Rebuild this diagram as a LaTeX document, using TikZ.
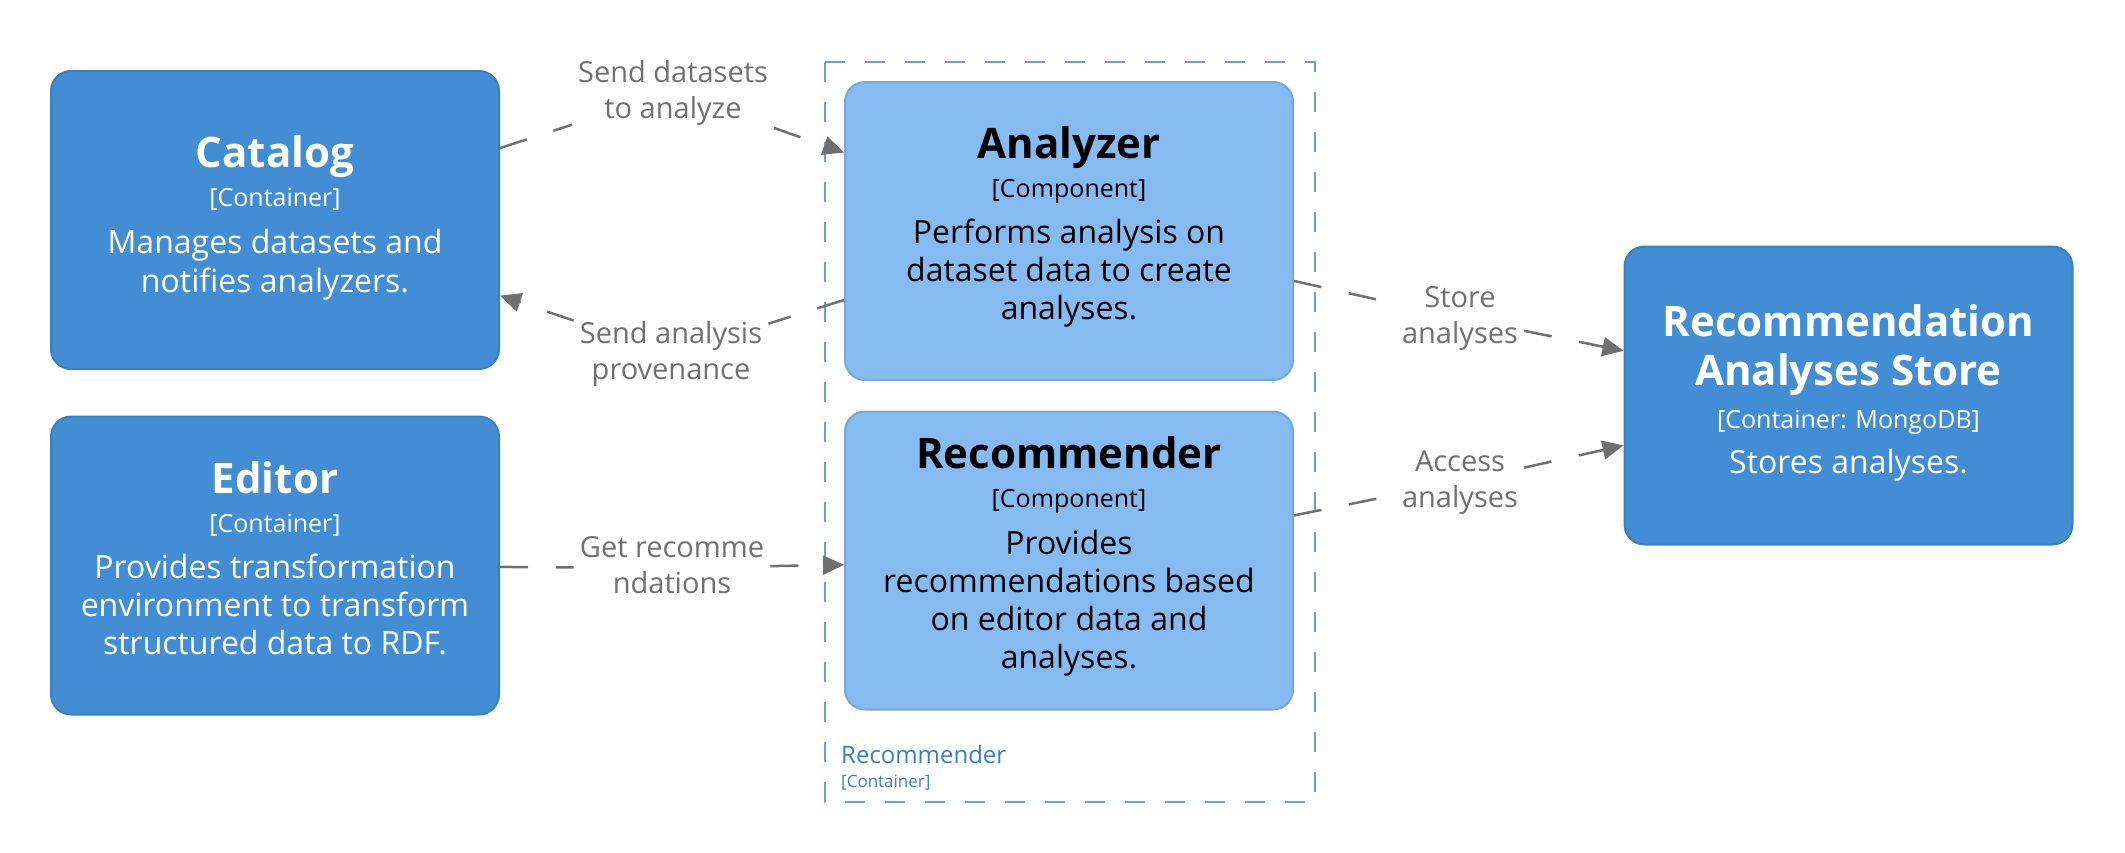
\documentclass[tikz,border=0pt]{standalone}
\usepackage{fontspec}
\setmainfont{Open Sans}
\usetikzlibrary{arrows.meta}
\definecolor{contfill}{HTML}{438DD5}
\definecolor{contline}{HTML}{3C7FC0}
\definecolor{compfill}{HTML}{85BBF0}
\definecolor{compline}{HTML}{78A8D8}
\definecolor{edgegray}{HTML}{707070}
\definecolor{bndcol}{HTML}{6A9FDB}
\definecolor{bndtext}{HTML}{3C7FC0}
\newcommand\twoline[2]{\rule{0pt}{21pt}#1\\#2\rule[-7pt]{0pt}{7pt}}
\tikzset{
  container/.style={draw=contline, fill=contfill, line width=2pt, rounded corners=20pt,
    minimum width=448pt, minimum height=298pt, inner sep=0pt},
  component/.style={container, draw=compline, fill=compfill},
  ttl/.style={anchor=base, inner sep=0pt, font=\fontsize{42}{49}\selectfont\bfseries},
  tech/.style={anchor=base, inner sep=0pt, font=\fontsize{25}{30}\selectfont},
  desc/.style={anchor=base, inner sep=0pt, font=\fontsize{32}{38}\selectfont},
  lbl/.style={align=center, inner sep=6pt, text=edgegray, font=\fontsize{29}{36}\selectfont},
  rel/.style={draw=edgegray, line width=2.5pt, dash pattern=on 28pt off 28pt,
    -{Triangle[length=21pt,width=19pt]}},
  bnd/.style={draw=bndcol, line width=2pt, dash pattern=on 20pt off 20pt},
}
\begin{document}
\begin{tikzpicture}[x=1pt,y=-1pt]
\useasboundingbox (0,0) rectangle (2125,852);
% boundary
\draw[bnd] (825,62) rectangle (1315,802);
\node[anchor=base west, inner sep=0pt, text=bndtext, font=\fontsize{24}{28}\selectfont] (bndname) at (841,763) {Recommender};
\node[anchor=base west, inner sep=0pt, text=bndtext, font=\fontsize{17}{20}\selectfont] (bndtech) at (841,787) {[Container]};
% boxes
\node[container] (cat) at (275,220) {};
\node[container] (ed) at (275,565.5) {};
\node[component] (ana) at (1069,231) {};
\node[component] (rec) at (1069,560.5) {};
\node[container] (store) at (1848.5,395.5) {};
% Catalog text
\node[ttl, text=white] (cat1) at (275,167) {Catalog};
\node[tech, text=white] (cat2) at (275,206) {[Container]};
\node[desc, text=white] (cat3) at (275,253) {Manages datasets and};
\node[desc, text=white] (cat4) at (275,292) {notifies analyzers.};
% Editor text
\node[ttl, text=white] (ed1) at (275,493) {Editor};
\node[tech, text=white] (ed2) at (275,532) {[Container]};
\node[desc, text=white] (ed3) at (275,578) {Provides transformation};
\node[desc, text=white] (ed4) at (275,616) {environment to transform};
\node[desc, text=white] (ed5) at (275,654) {structured data to RDF.};
% Analyzer text
\node[ttl] (ana1) at (1069,158) {Analyzer};
\node[tech] (ana2) at (1069,197) {[Component]};
\node[desc] (ana3) at (1069,243) {Performs analysis on};
\node[desc] (ana4) at (1069,281) {dataset data to create};
\node[desc] (ana5) at (1069,319) {analyses.};
% Recommender text
\node[ttl] (rec1) at (1069,468) {Recommender};
\node[tech] (rec2) at (1069,507) {[Component]};
\node[desc] (rec3) at (1069,554) {Provides};
\node[desc] (rec4) at (1069,592) {recommendations based};
\node[desc] (rec5) at (1069,630) {on editor data and};
\node[desc] (rec6) at (1069,668) {analyses.};
% Store text
\node[ttl, text=white] (st1) at (1848.5,336) {Recommendation};
\node[ttl, text=white] (st2) at (1848.5,385) {Analyses Store};
\node[tech, text=white] (st3) at (1848.5,428) {[Container: MongoDB]};
\node[desc, text=white] (st4) at (1848.5,473) {Stores analyses.};
% relation labels
\node[lbl] (l1) at (673,92.5) {\twoline{Send datasets}{to analyze}};
\node[lbl] (l2) at (671,353.5) {\twoline{Send analysis}{provenance}};
\node[lbl] (l3) at (672,568) {\twoline{Get recomme}{ndations}};
\node[lbl] (l4) at (1460,318) {\twoline{Store}{analyses}};
\node[lbl] (l5) at (1460,482) {\twoline{Access}{analyses}};
% relations
\draw[rel] (cat) -- (l1) -- (ana);
\draw[rel] (ana) -- (l2) -- (cat);
\draw[rel] (ed) -- (l3) -- (rec);
\draw[rel] (ana) -- (l4) -- (store);
\draw[rel] (rec) -- (l5) -- (store);
\end{tikzpicture}
\end{document}
